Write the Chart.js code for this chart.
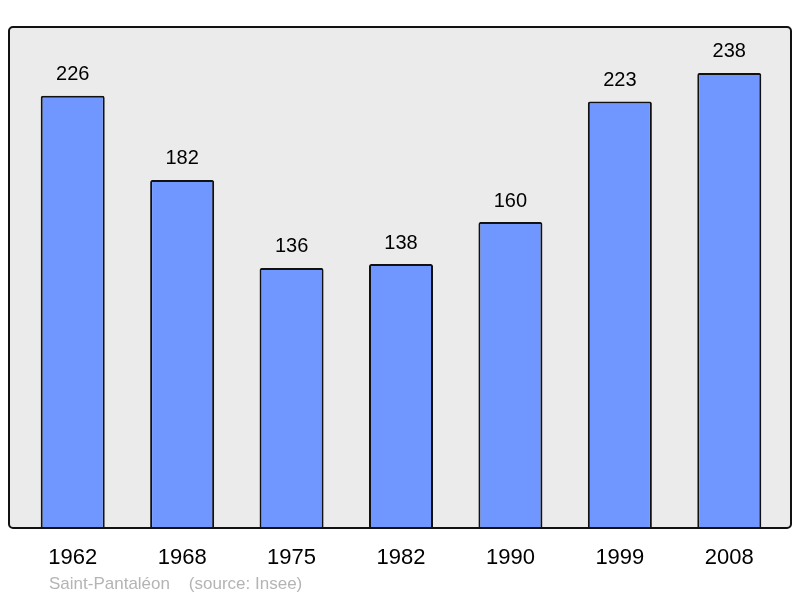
<!DOCTYPE html>
<html>
<head>
<meta charset="utf-8">
<script src="https://cdn.jsdelivr.net/npm/chart.js@4/dist/chart.umd.min.js"></script>
<style>
  html, body { margin: 0; padding: 0; background: #fff; }
  #wrap { width: 800px; height: 598px; }
</style>
</head>
<body>
<div id="wrap"><canvas id="pop_chart" width="800" height="598"></canvas></div>
<script>
const years = ['1962', '1968', '1975', '1982', '1990', '1999', '2008'];
const population = [226, 182, 136, 138, 160, 223, 238];
const footerText = 'Saint-Pantaléon    (source: Insee)';

const fontName = '"Liberation Sans", Arial, sans-serif';

// grey box behind the bars, black frame on top
const frame = {
  id: 'frame',
  beforeDatasetsDraw(chart) {
    const a = chart.chartArea, ctx = chart.ctx;
    ctx.save();
    ctx.fillStyle = '#ebebeb';
    ctx.beginPath();
    ctx.roundRect(a.left - 9, a.top, a.right - a.left + 16, a.bottom - a.top, 4);
    ctx.fill();
    ctx.restore();
  },
  afterDatasetsDraw(chart) {
    const a = chart.chartArea, ctx = chart.ctx;
    ctx.save();
    ctx.strokeStyle = '#111';
    ctx.lineWidth = 2;
    ctx.beginPath();
    ctx.roundRect(a.left - 9, a.top, a.right - a.left + 16, a.bottom - a.top, 4);
    ctx.stroke();

    // value labels above bars
    const meta = chart.getDatasetMeta(0);
    ctx.fillStyle = '#000';
    ctx.font = '20px ' + fontName;
    ctx.textAlign = 'center';
    ctx.textBaseline = 'middle';
    meta.data.forEach(function(bar, i) {
      ctx.fillText(population[i], bar.x, bar.y - 21);
    });

    // footer
    ctx.fillStyle = '#b4b4b4';
    ctx.font = '17px ' + fontName;
    ctx.textAlign = 'left';
    ctx.fillText(footerText, 49, 584);
    ctx.restore();
  }
};

const config = {
  type: 'bar',
  data: {
    labels: years,
    datasets: [{
      data: population,
      backgroundColor: '#7096ff',
      borderColor: '#111',
      borderWidth: 2,
      borderRadius: 2,
      borderSkipped: 'bottom',
      barPercentage: 0.585,
      categoryPercentage: 1
    }]
  },
  options: {
    responsive: false,
    animation: false,
    layout: { padding: { top: 27, left: 18, right: 16, bottom: 17.6 } },
    plugins: { legend: { display: false }, tooltip: { enabled: false } },
    scales: {
      y: { display: false, min: 0, max: 262 },
      x: {
        grid: { display: false },
        border: { display: false },
        ticks: { color: '#000', padding: 9, font: { family: fontName, size: 22 } }
      }
    }
  },
  plugins: [frame]
};

new Chart(document.getElementById('pop_chart'), config);
</script>
</body>
</html>
